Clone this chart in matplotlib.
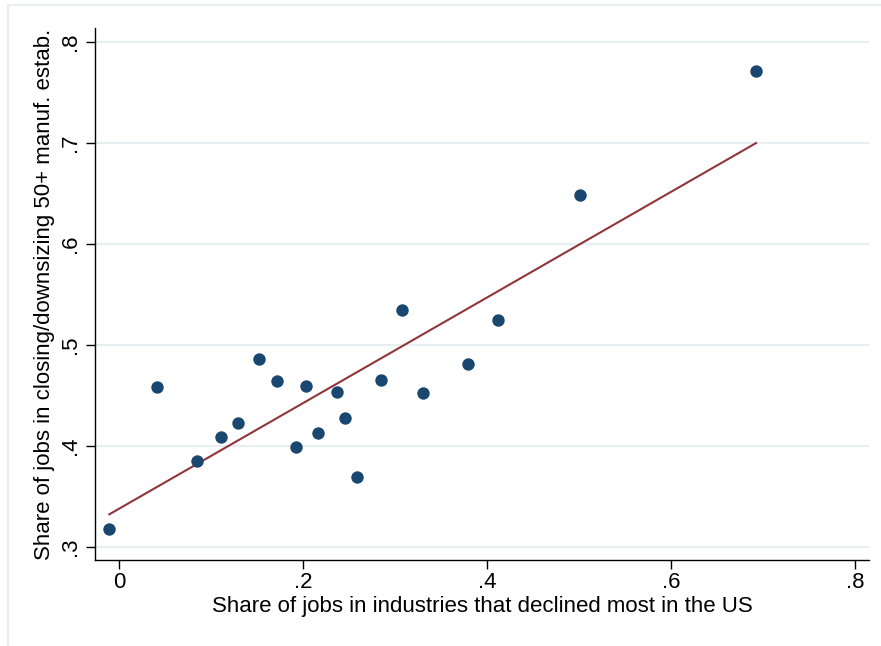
import matplotlib
matplotlib.use("Agg")
import matplotlib.pyplot as plt
import numpy as np
from matplotlib.patches import Rectangle

plt.rcParams['font.family'] = ['Liberation Sans', 'DejaVu Sans']

# share of jobs in declining industries vs share in closing/downsizing estab.
share_declined = [-0.0105, 0.0416, 0.0848, 0.1109, 0.1293, 0.1525, 0.1721, 0.1927,
                  0.2033, 0.2166, 0.2366, 0.2453, 0.2590, 0.2853, 0.3073, 0.3308,
                  0.3793, 0.4120, 0.5011, 0.6924]
share_closing = [0.318, 0.458, 0.385, 0.409, 0.423, 0.486, 0.464, 0.399,
                 0.459, 0.413, 0.453, 0.428, 0.369, 0.465, 0.535, 0.452,
                 0.481, 0.525, 0.6485, 0.771]
xticks = [0, 0.2, 0.4, 0.6, 0.8]
xtick_labels = ['0', '.2', '.4', '.6', '.8']
yticks = [0.3, 0.4, 0.5, 0.6, 0.7, 0.8]
ytick_labels = ['.3', '.4', '.5', '.6', '.7', '.8']

x = np.array(share_declined)
y = np.array(share_closing)

fig = plt.figure(figsize=(8.81, 6.46), dpi=100)
ax = fig.add_axes([95/881, 1 - 560/646, (869 - 95)/881, (560 - 28)/646])

# outer graph region frame
fig.add_artist(Rectangle((8/881, -0.1), 1.2, 1.1 - 5/646, transform=fig.transFigure,
                         fill=False, ec='#e8eff2', lw=1.5))

ax.grid(axis='y', color='#e8eff2', lw=1.5, zorder=0)
ax.set_axisbelow(True)

ax.scatter(x, y, s=80, color='#1a476f', zorder=3, linewidths=0)
b, a = np.polyfit(x, y, 1)
xx = np.array([x.min(), x.max()])
ax.plot(xx, a + b * xx, color='#90353b', lw=1.5, zorder=2)

ax.set_xlim(-0.0261, 0.8152)
ax.set_ylim(0.2871, 0.8139)
ax.set_xticks(xticks)
ax.set_xticklabels(xtick_labels)
ax.set_yticks(yticks)
ax.set_yticklabels(ytick_labels, rotation=90, va='center')

for s in ['top', 'right']:
    ax.spines[s].set_visible(False)
for s in ['left', 'bottom']:
    ax.spines[s].set_linewidth(1.0)
    ax.spines[s].set_color('black')
ax.tick_params(axis='both', length=6.5, width=1.0, labelsize=16)
ax.tick_params(axis='x', pad=2)
ax.tick_params(axis='y', pad=3.5)

ax.set_xlabel('Share of jobs in industries that declined most in the US', fontsize=16, labelpad=2.5)
ax.set_ylabel('Share of jobs in closing/downsizing 50+ manuf. estab.', fontsize=16, labelpad=3.5)

fig.savefig('out.png', dpi=100)
